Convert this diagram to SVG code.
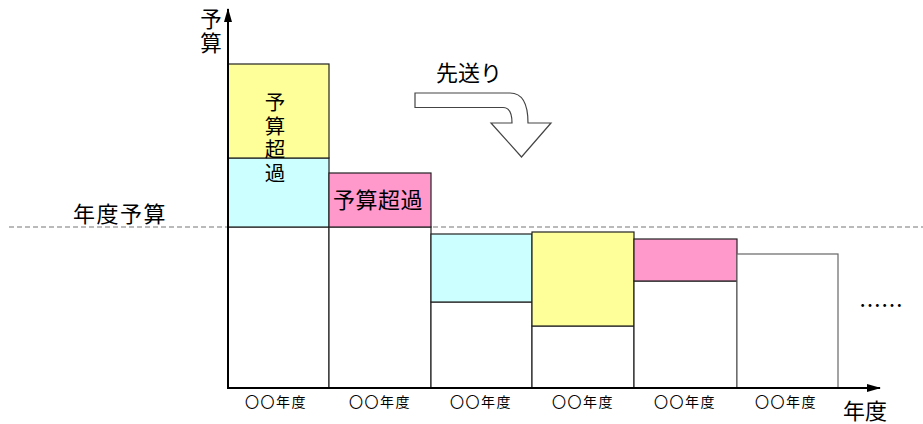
<svg xmlns="http://www.w3.org/2000/svg" width="923" height="424" viewBox="0 0 923 424">
<style>
text{font-family:"Noto Sans CJK JP","Noto Sans CJK SC",sans-serif;fill:#000}
.b{stroke:#222;stroke-width:1.2}
.w{fill:#fff}
.y{fill:#ffff99}
.c{fill:#ccffff}
.p{fill:#ff99cc}
.yr{font-size:14px;text-anchor:middle;letter-spacing:1.5px}
.big{font-size:22px}
.vert{writing-mode:vertical-rl;text-orientation:upright}
.ax{stroke:#000;stroke-width:2;fill:none}
</style>
<defs>
<marker id="ah" viewBox="0 0 14 8" refX="13" refY="4" markerWidth="14" markerHeight="8" markerUnits="userSpaceOnUse" orient="auto">
<path d="M0,0 L14,4 L0,8 Z" fill="#000"/>
</marker>
</defs>
<line x1="9" y1="227" x2="923" y2="227" stroke="#777" stroke-width="1.2" stroke-dasharray="5,3"/>
<g id="bar1">
<rect class="b w" x="228" y="227" width="101" height="161"/>
<rect class="b c" x="228" y="158" width="101" height="69"/>
<rect class="b y" x="228" y="64" width="101" height="94"/>
<text class="vert" x="275" y="92" font-size="20.5" letter-spacing="3">予算超過</text>
</g>
<g id="bar2">
<rect class="b w" x="329" y="227" width="102" height="161"/>
<rect class="b p" x="329" y="173" width="102" height="54"/>
<text class="big" x="378" y="208" text-anchor="middle" letter-spacing="0.5">予算超過</text>
</g>
<g id="bar3">
<rect class="b w" x="431" y="302" width="101" height="86"/>
<rect class="b c" x="431" y="234" width="101" height="68"/>
</g>
<g id="bar4">
<rect class="b w" x="532" y="326" width="102" height="62"/>
<rect class="b y" x="532" y="232" width="102" height="94"/>
</g>
<g id="bar5">
<rect class="b w" x="634" y="281" width="103" height="107"/>
<rect class="b p" x="634" y="239" width="103" height="42"/>
</g>
<g id="bar6">
<rect x="737" y="254" width="101" height="134" fill="#fff" stroke="#666" stroke-width="1.2"/>
</g>
<g id="connectors">
<line class="ax" x1="228" y1="389" x2="228" y2="9" marker-end="url(#ah)"/>
<line class="ax" x1="227" y1="388" x2="880" y2="388" marker-end="url(#ah)"/>
</g>
<g id="carry-over">
<path d="M415,93 L510,93 Q528,93 528,123 L551,123 L521.5,157 L491,123 L512,123 Q512,107.5 503,107.5 L415,107.5 Z" fill="#fff" stroke="#444" stroke-width="1.2"/>
<text class="big" x="436" y="81">先送り</text>
</g>
<g id="labels">
<text class="big" x="73" y="222" letter-spacing="1.5">年度予算</text>
<text class="vert" x="211" y="8" font-size="21.5" letter-spacing="3">予算</text>
<text class="big" x="843" y="419">年度</text>
<text class="yr" x="276" y="407">〇〇年度</text>
<text class="yr" x="380" y="407">〇〇年度</text>
<text class="yr" x="481" y="407">〇〇年度</text>
<text class="yr" x="583" y="407">〇〇年度</text>
<text class="yr" x="685" y="407">〇〇年度</text>
<text class="yr" x="786" y="407">〇〇年度</text>
<text x="859" y="313" font-size="22">……</text>
</g>
</svg>
